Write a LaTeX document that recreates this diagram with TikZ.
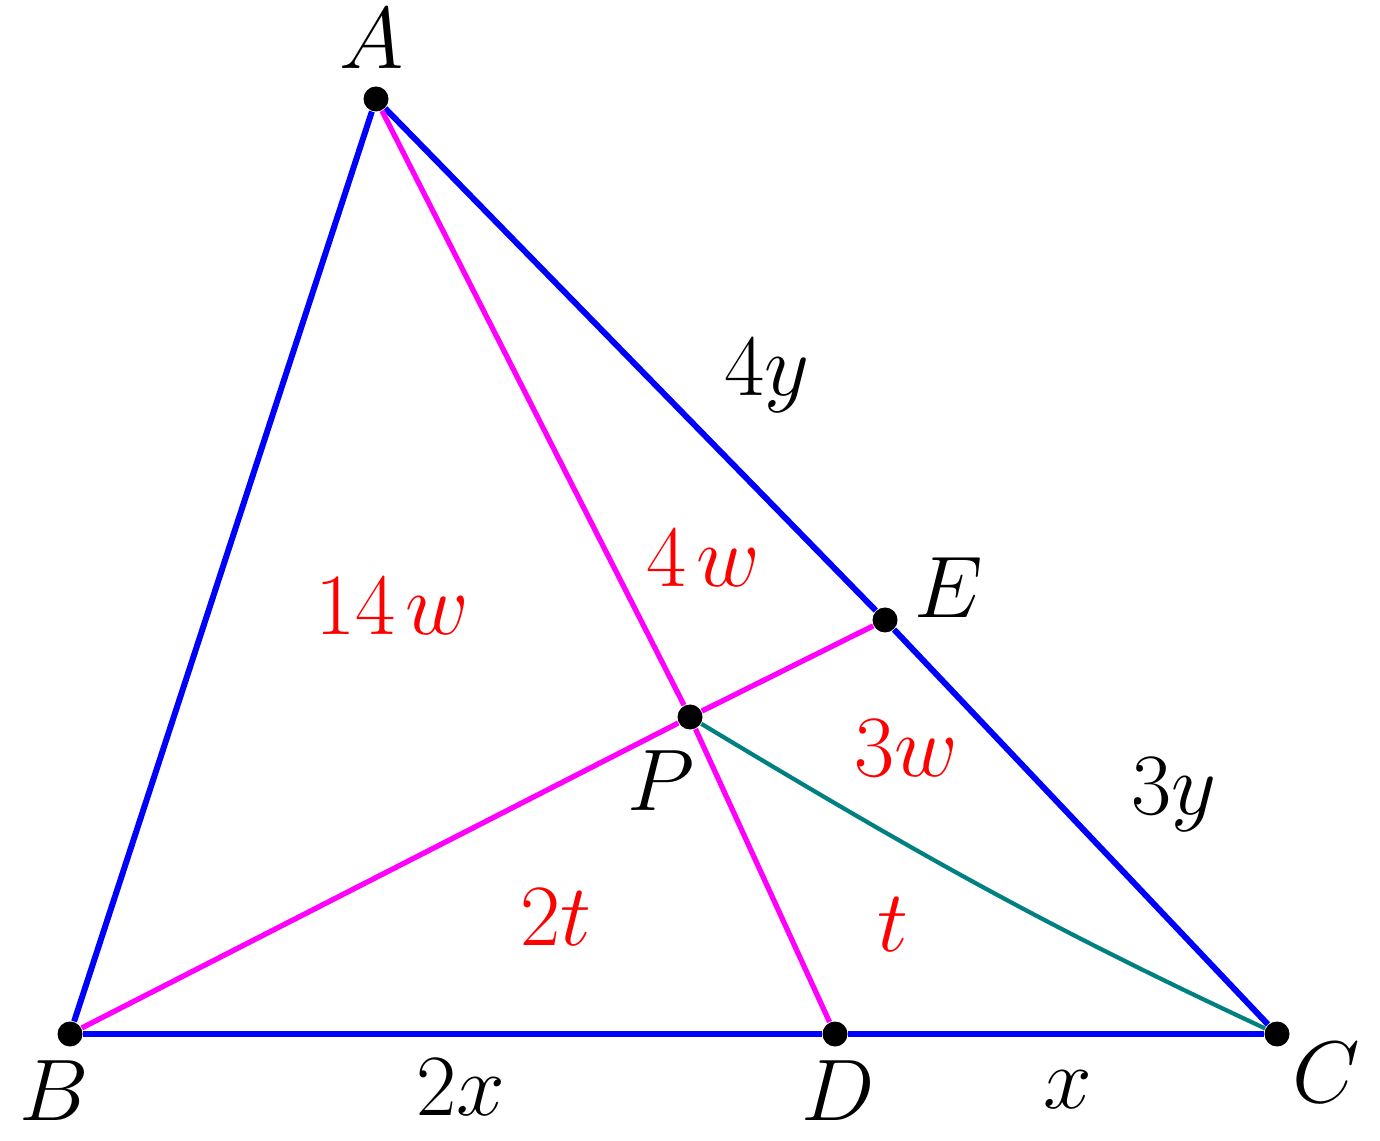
\documentclass[tikz,border=0pt]{standalone}
\usepackage{amsmath}
\usepackage{tikz}
\usetikzlibrary{arrows,positioning}
\definecolor{mag}{RGB}{255,0,255}
\definecolor{tealline}{RGB}{0,128,128}

\begin{document}
\begin{tikzpicture}[font=\fontsize{24}{28}\selectfont, node distance=0.6cm]
\tikzstyle{dot} = [circle, fill=black, inner sep=0pt, minimum size=0.25cm]
\tikzstyle{side} = [draw=blue, line width=1.7pt]
\tikzstyle{cevian} = [draw=mag, line width=1.5pt]
\tikzstyle{seg} = [draw=tealline, line width=1.2pt]
\tikzstyle{vlabel} = [inner sep=0pt]
\tikzstyle{area} = [inner sep=0pt, text=red]

\useasboundingbox (0,0) rectangle (13.8,11.4);

% points
\node[dot] (A) at (3.76,10.41) {};
\node[dot] (B) at (0.70,1.06) {};
\node[dot] (C) at (12.77,1.06) {};
\node[dot] (D) at (8.35,1.06) {};
\node[dot] (E) at (8.85,5.20) {};
\node[dot] (P) at (6.90,4.23) {};

\node[vlabel, above of=A, node distance=0.6cm, xshift=-0.04cm] (lA) {$A$};
\node[vlabel, below of=B, node distance=0.57cm, xshift=-0.16cm] (lB) {$B$};
\node[vlabel, below of=C, node distance=0.39cm, xshift=0.49cm] (lC) {$C$};
\node[vlabel, below of=D, node distance=0.57cm, xshift=0.03cm] (lD) {$D$};
\node[vlabel, above of=E, node distance=0.32cm, xshift=0.64cm] (lE) {$E$};
\node[vlabel, below of=P, node distance=0.64cm, xshift=-0.29cm] (lP) {$P$};

% sides
\draw[side] (A) -- (B);
\draw[side] (A) -- (E);
\draw[side] (E) -- (C);
\draw[side] (B) -- (D);
\draw[side] (D) -- (C);

% cevians
\draw[cevian] (A) -- (P);
\draw[cevian] (P) -- (D);
\draw[cevian] (B) -- (P);
\draw[cevian] (P) -- (E);
\draw[seg] (P) to[out=-31,in=155] (C);

% lengths
\node[vlabel] (sAE) at (7.67,7.64) {$4y$};
\node[vlabel] (sEC) at (11.74,3.45) {$3y$};
\node[vlabel] (sBD) at (4.61,0.53) {$2x$};
\node[vlabel] (sDC) at (10.68,0.50) {$x$};

% areas
\node[area] (rABP) at (3.92,5.34) {$14\mkern2mu w$};
\node[area] (rAPE) at (7.03,5.82) {$4\mkern2mu w$};
\node[area] (rEPC) at (9.06,3.92) {$3w$};
\node[area] (rBPD) at (5.56,2.23) {$2t$};
\node[area] (rDPC) at (8.93,2.15) {$t$};

\end{tikzpicture}
\end{document}
